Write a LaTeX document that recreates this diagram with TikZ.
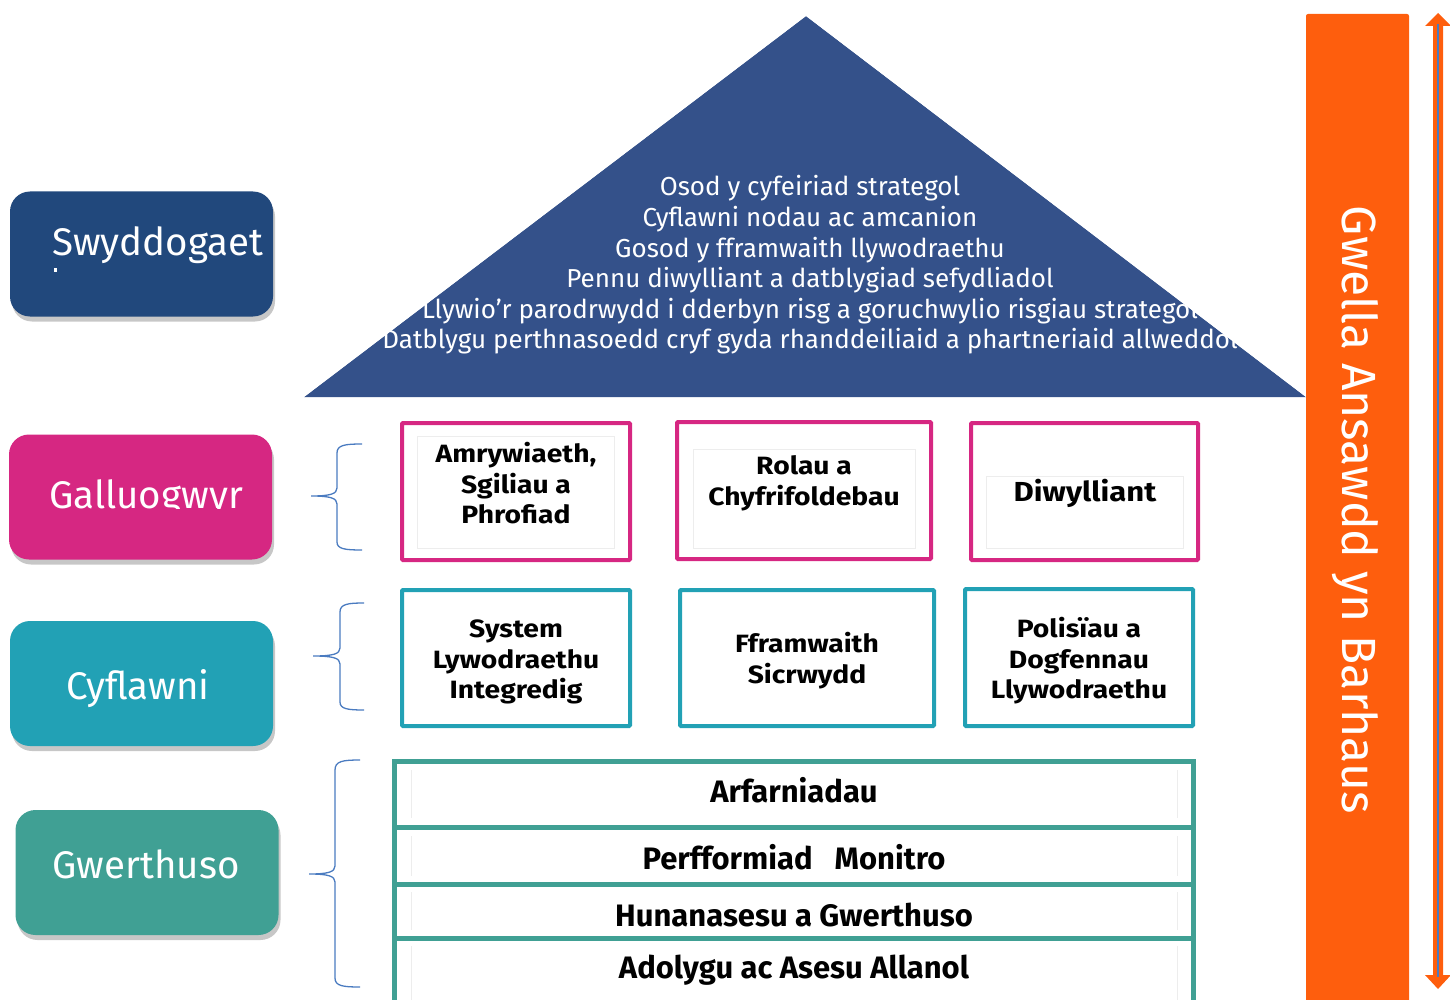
\documentclass[tikz,border=0pt]{standalone}
\usepackage{fontspec}
\setmainfont{Fira Sans}
\usepackage{graphicx}
\usetikzlibrary{shadows}
\definecolor{navy}{HTML}{21487C}
\definecolor{magenta}{HTML}{D62782}
\definecolor{cyan2}{HTML}{22A1B5}
\definecolor{teal2}{HTML}{40A094}
\definecolor{tri}{HTML}{34518A}
\definecolor{orng}{HTML}{FE5E0D}
\definecolor{brace}{HTML}{4A7BC0}
\definecolor{faint}{HTML}{EDEDED}
\newcommand{\widetext}[1]{\scalebox{1.13}[1]{\begin{tabular}{@{}c@{}}#1\end{tabular}}}
\tikzset{
  lbox/.style={rounded corners=20pt, minimum width=263pt, minimum height=125pt, inner sep=0pt,
    drop shadow={shadow xshift=2pt, shadow yshift=-5pt, opacity=0.22, fill=black}},
  ltext/.style={text=white, font=\fontsize{38.5}{44}\selectfont, inner sep=0pt},
  pinkbox/.style={draw=magenta, line width=4pt, rounded corners=1pt},
  cyanbox/.style={draw=cyan2, line width=4pt, rounded corners=1pt},
  tealline/.style={draw=teal2, line width=5pt},
  faintbox/.style={draw=faint, line width=0.8pt},
  btext/.style={font=\bfseries\fontsize{25}{30.5}\selectfont, inner sep=0pt},
  rowtext/.style={font=\bfseries\fontsize{31}{34}\selectfont, inner sep=0pt},
  bracepath/.style={draw=brace, line width=1.3pt},
}
\begin{document}
\begin{tikzpicture}[x=1pt,y=-1pt]
\useasboundingbox (0,0) rectangle (1450,1000);

% left boxes
\node[lbox, fill=navy] (sw) at (141.5,254) {};
\node[ltext, anchor=base west] (swt) at (52,256) {Swyddogaet};
\fill[white] (54,268) rectangle (57,272);
\node[lbox, fill=magenta] (ga) at (140.5,497) {};
\begin{scope}
  \clip (10,435) rectangle (271,508.5);
  \node[ltext, anchor=base] (gat) at (146,508) {Galluogwyr};
\end{scope}
\node[lbox, fill=cyan2] (cy) at (141.5,683.5) {};
\node[ltext, anchor=base] (cyt) at (138,699) {Cyflawni};
\node[lbox, fill=teal2] (gw) at (147,872.5) {};
\node[ltext, anchor=base] (gwt) at (146,878) {Gwerthuso};

% braces
\draw[bracepath] (362,444) .. controls (345,444) and (337,445) .. (337,453) -- (337,488)
  .. controls (337,494) and (330,496) .. (311,496)
  .. controls (330,496) and (337,498) .. (337,504) -- (337,542)
  .. controls (337,549) and (345,550) .. (362,550);
\draw[bracepath] (364,603) .. controls (348,603) and (340,604) .. (340,612) -- (340,648)
  .. controls (340,654) and (333,656) .. (313,656)
  .. controls (333,656) and (340,658) .. (340,664) -- (340,702)
  .. controls (340,709) and (348,710) .. (364,710);
\draw[bracepath] (360,760) .. controls (343,760) and (335,761) .. (335,770) -- (335,866)
  .. controls (335,872) and (328,874) .. (309,874)
  .. controls (328,874) and (335,876) .. (335,882) -- (335,978)
  .. controls (335,986) and (343,987) .. (360,987);

% roof triangle
\fill[tri] (806,16) -- (1306,397) -- (304,397) -- cycle;
\node[text=white, inner sep=0pt] (roof) at (810,265) {\parbox{1150pt}{\centering\fontsize{26}{30.6}\selectfont
Osod y cyfeiriad strategol\\
Cyflawni nodau ac amcanion\\
Gosod y fframwaith llywodraethu\\
Pennu diwylliant a datblygiad sefydliadol\\
Llywio’r parodrwydd i dderbyn risg a goruchwylio risgiau strategol\\
Datblygu perthnasoedd cryf gyda rhanddeiliaid a phartneriaid allweddol}};
% cover the text that spills outside the triangle
\fill[white] (304,397) -- (806,16) -- (300,16) -- (300,397) -- cycle;
\fill[white] (1306,397) -- (806,16) -- (1306,16) -- cycle;

% pink boxes
\draw[faintbox] (417,436) rectangle (614,548);
\draw[faintbox] (693,449) rectangle (915,548);
\draw[faintbox] (986,476) rectangle (1183,548);
\draw[pinkbox] (402,423) rectangle (630,560);
\draw[pinkbox] (677,422) rectangle (931,559);
\draw[pinkbox] (971,423) rectangle (1198,560);
\node[btext] (a) at (516,487) {\widetext{Amrywiaeth,\\Sgiliau a\\Phrofiad}};
\node[btext] (b) at (804,484) {\widetext{Rolau a\\Chyfrifoldebau}};
\node[btext, font=\bfseries\fontsize{27.5}{32}\selectfont] (c) at (1085,495) {\widetext{Diwylliant}};

% cyan boxes
\draw[cyanbox] (402,590) rectangle (630,726);
\draw[cyanbox] (680,590) rectangle (934,726);
\draw[cyanbox] (965,589) rectangle (1193,726);
\node[btext] (d) at (516,662) {\widetext{System\\Lywodraethu\\Integredig}};
\node[btext] (e) at (807,662) {\widetext{Fframwaith\\Sicrwydd}};
\node[btext] (f) at (1079,662) {\widetext{Polisïau a\\Dogfennau\\Llywodraethu}};

% bottom stacked boxes
\foreach \ya/\yb in {770/818, 836/876, 892/930, 946/1000}{
  \draw[faintbox] (411,\ya) -- (411,\yb);
  \draw[faintbox] (1177,\ya) -- (1177,\yb);
}
\draw[tealline] (394,1010) -- (394,761) -- (1193,761) -- (1193,1010);
\draw[tealline] (394,827) -- (1193,827);
\draw[tealline] (394,884) -- (1193,884);
\draw[tealline] (394,938) -- (1193,938);
\node[rowtext] (r1) at (794,790) {Arfarniadau};
\node[rowtext] (r2) at (794,857) {Perfformiad\ \ \ Monitro};
\node[rowtext] (r3) at (794,915) {Hunanasesu a Gwerthuso};
\node[rowtext] (r4) at (794,970) {Adolygu ac Asesu Allanol};

% orange bar
\fill[orng, rounded corners=2pt] (1306,14) rectangle (1409,1010);
\node[text=white, rotate=-90, font=\fontsize{48}{52}\selectfont, inner sep=0pt] (bar) at (1355,510) {Gwella Ansawdd yn Barhaus};

% double arrow
\fill[orng] (1438,13) -- (1451,26) -- (1443,26) -- (1443,975) -- (1451,975) -- (1438,989)
  -- (1425,975) -- (1433,975) -- (1433,26) -- (1425,26) -- cycle;
\draw[brace, line width=2pt] (1438,24) -- (1438,977);
\end{tikzpicture}
\end{document}
